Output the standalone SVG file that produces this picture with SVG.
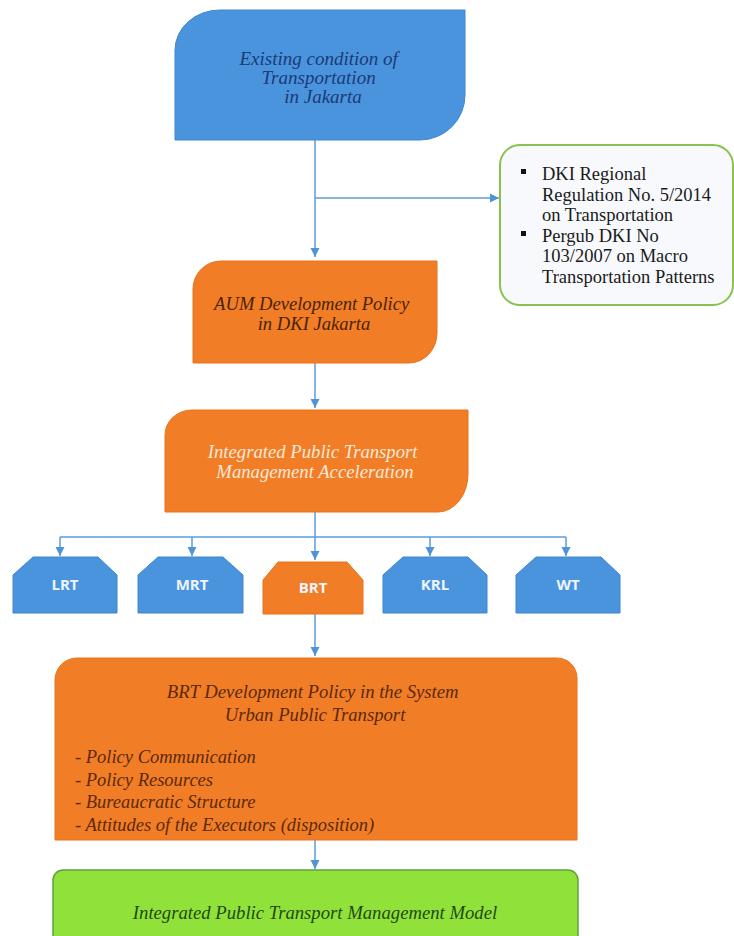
<svg xmlns="http://www.w3.org/2000/svg" width="734" height="936" viewBox="0 0 734 936">
<defs>
<marker id="arr" markerUnits="userSpaceOnUse" markerWidth="10" markerHeight="10" refX="9" refY="5" orient="auto">
<path d="M0,0.5 L9,5 L0,9.5 Z" fill="#4f94d6"/>
</marker>
<style>
.blue{fill:#4a94de;stroke:#3f86cf;stroke-width:1}
.orange{fill:#f27d27;stroke:#e8731d;stroke-width:1}
.serif{font-family:"Liberation Serif","Times New Roman",serif;font-style:italic}
.lbl{font-family:"Open Sans","Liberation Sans",Arial,sans-serif;font-weight:bold;font-size:15px;fill:#eef4fc;text-anchor:middle}
.conn{stroke:#5b9ddb;stroke-width:1.5;fill:none}
</style>
</defs>
<rect width="734" height="936" fill="#ffffff"/>

<g id="connectors">
<path class="conn" d="M315,140 V257" marker-end="url(#arr)"/>
<path class="conn" d="M315,198 H499" marker-end="url(#arr)"/>
<path class="conn" d="M315,363 V408" marker-end="url(#arr)"/>
<path class="conn" d="M315,512 V560" marker-end="url(#arr)"/>
<path class="conn" d="M60,537 H566"/>
<path class="conn" d="M60,537 V556" marker-end="url(#arr)"/>
<path class="conn" d="M192,537 V556" marker-end="url(#arr)"/>
<path class="conn" d="M430,537 V556" marker-end="url(#arr)"/>
<path class="conn" d="M566,537 V556" marker-end="url(#arr)"/>
<path class="conn" d="M315,614 V656" marker-end="url(#arr)"/>
<path class="conn" d="M315,840 V869" marker-end="url(#arr)"/>
</g>

<g id="existing">
<path class="blue" d="M175,140 V50 A45,40 0 0 1 220,10 H465 V95 A45,45 0 0 1 420,140 Z"/>
<text class="serif" font-size="19" fill="#1c3a75" text-anchor="middle">
<tspan x="321" y="65">Existing condition of</tspan>
<tspan x="321" y="84">Transportation</tspan>
<tspan x="323" y="103">in Jakarta</tspan>
</text>
</g>

<g id="regulations">
<rect x="500" y="145" width="233" height="160" rx="20" ry="20" fill="#f7f9fc" stroke="#86c34f" stroke-width="2"/>
<g fill="#111111">
<rect x="521" y="169" width="5" height="5"/>
<rect x="521" y="231" width="5" height="5"/>
</g>
<text font-family="Liberation Serif,'Times New Roman',serif" font-size="18.5" fill="#1a1a1a">
<tspan x="542" y="180">DKI Regional</tspan>
<tspan x="542" y="200.5">Regulation No. 5/2014</tspan>
<tspan x="542" y="221">on Transportation</tspan>
<tspan x="542" y="241.5">Pergub DKI No</tspan>
<tspan x="542" y="262">103/2007 on Macro</tspan>
<tspan x="542" y="282.5">Transportation Patterns</tspan>
</text>
</g>

<g id="aum">
<path class="orange" d="M193,363 V289 A28,28 0 0 1 221,261 H437 V333 A28,30 0 0 1 409,363 Z"/>
<text class="serif" font-size="18.6" fill="#4a2306" text-anchor="middle">
<tspan x="314" y="310">AUM Development Policy</tspan>
<tspan x="314" y="330">in DKI Jakarta</tspan>
</text>
</g>

<g id="acceleration">
<path class="orange" d="M165,512 V435 A27,25 0 0 1 192,410 H468 V474 A30,38 0 0 1 438,512 Z"/>
<text class="serif" font-size="18.7" fill="#fde8d6" text-anchor="middle">
<tspan x="315" y="458">Integrated Public Transport</tspan>
<tspan x="315" y="478">Management Acceleration</tspan>
</text>
</g>

<g id="lrt">
<path class="blue" d="M13,613 V575 L33,557 H98 L117,575 V613 Z"/>
<text class="lbl" x="65" y="590">LRT</text>
</g>
<g id="mrt">
<path class="blue" d="M138,613 V575 L158,557 H223 L243,575 V613 Z"/>
<text class="lbl" x="192" y="590">MRT</text>
</g>
<g id="brt">
<path class="orange" d="M263,614 V580 L278,562 H347 L363,580 V614 Z"/>
<text class="lbl" x="313" y="593">BRT</text>
</g>
<g id="krl">
<path class="blue" d="M383,613 V575 L403,557 H468 L487,575 V613 Z"/>
<text class="lbl" x="435" y="590">KRL</text>
</g>
<g id="wt">
<path class="blue" d="M516,613 V575 L536,557 H601 L620,575 V613 Z"/>
<text class="lbl" x="568" y="590">WT</text>
</g>

<g id="brt-policy">
<path class="orange" d="M55,840 V680 A22,22 0 0 1 77,658 H557 A20,20 0 0 1 577,678 V840 Z"/>
<text class="serif" font-size="18.7" fill="#5a2a0b" text-anchor="middle">
<tspan x="315" y="698">BRT Development Policy in the System</tspan>
<tspan x="315" y="721">Urban Public Transport</tspan>
</text>
<text class="serif" font-size="18.5" fill="#5a2a0b">
<tspan x="75" y="763">- Policy Communication</tspan>
<tspan x="75" y="786">- Policy Resources</tspan>
<tspan x="75" y="808">- Bureaucratic Structure</tspan>
<tspan x="75" y="831">- Attitudes of the Executors (disposition)</tspan>
</text>
</g>

<g id="model">
<path d="M53,940 V880 A10,10 0 0 1 63,870 H568 A10,10 0 0 1 578,880 V940 Z" fill="#90e23b" stroke="#5fa23a" stroke-width="1.5"/>
<text class="serif" font-size="18.7" fill="#1f4a12" text-anchor="middle" x="315" y="919">Integrated Public Transport Management Model</text>
</g>
</svg>
